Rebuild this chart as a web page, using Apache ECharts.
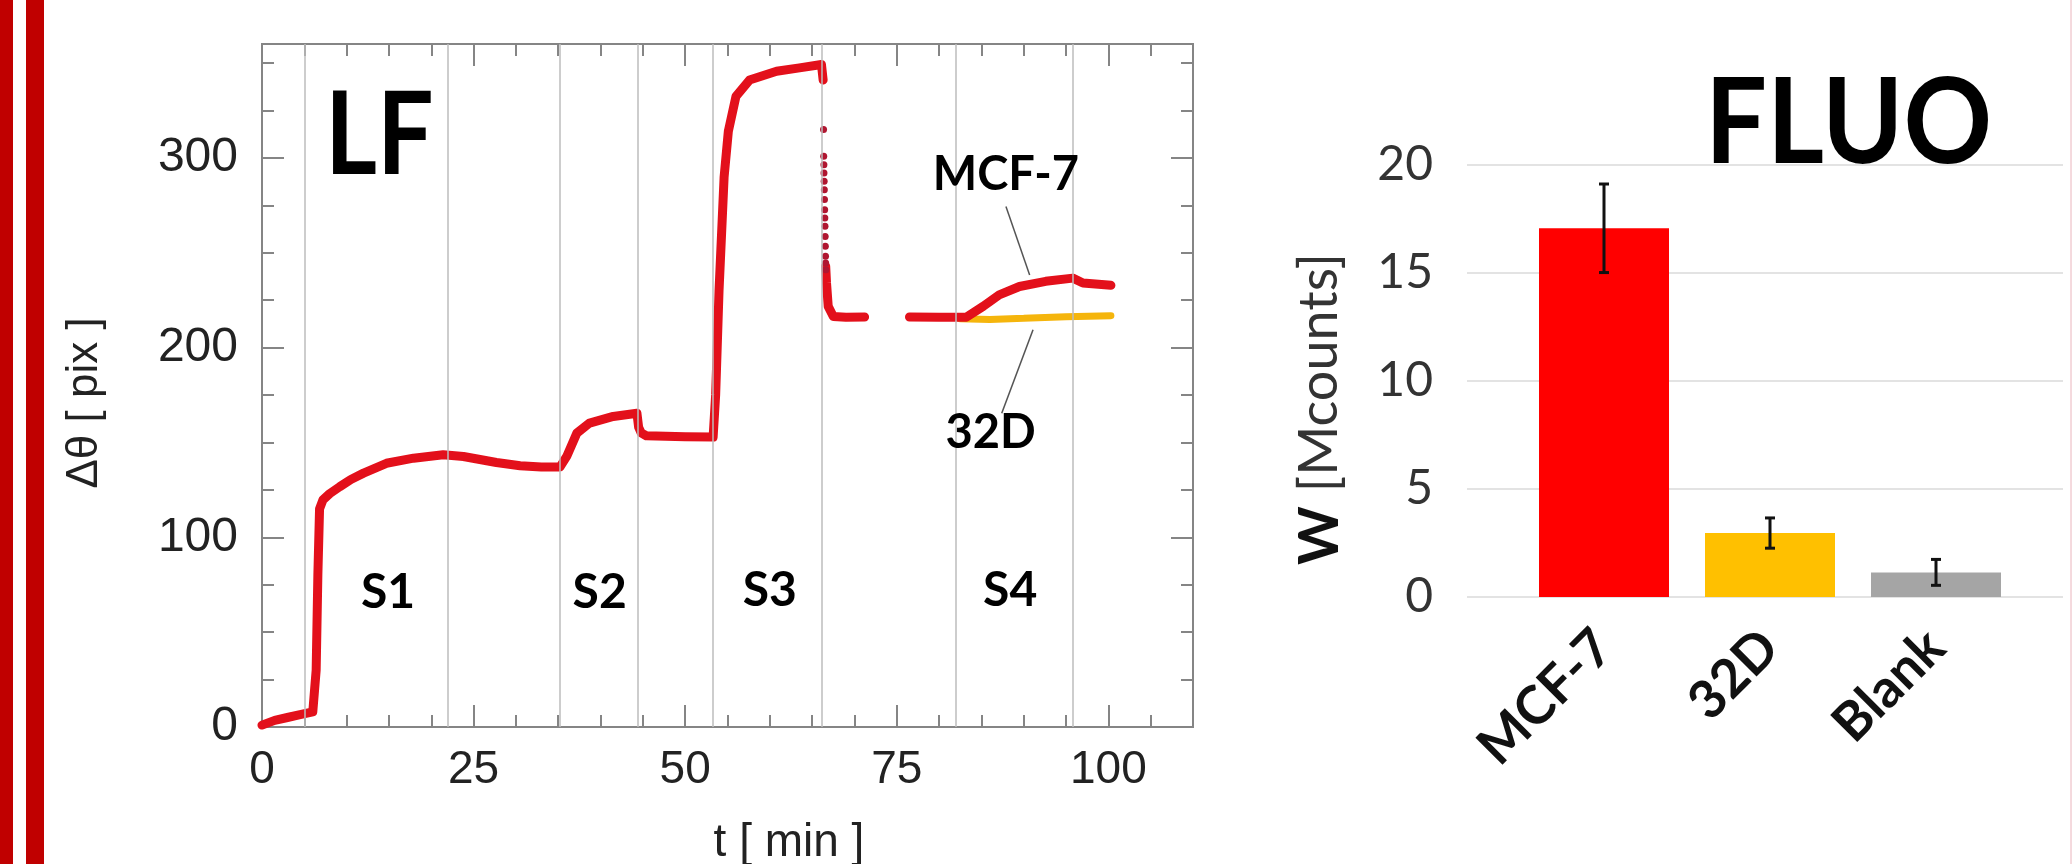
<!DOCTYPE html>
<html>
<head>
<meta charset="utf-8">
<script src="https://cdn.jsdelivr.net/npm/echarts@6/dist/echarts.min.js"></script>
<style>
    html, body { margin: 0; padding: 0; background: #fff; }
    #chart { width: 2072px; height: 864px; }
</style>
</head>
<body>
<div id="chart"></div>
<script>
    // LF trace, t [min] vs shift [pix]; null breaks the line
    var lfTime = [0, 1.5, 3, 4.5, 6.0, 6.4, 6.6, 6.8, 7.2, 8, 9.2, 10.5, 12, 14.7, 17.9,
        21.4, 23.8, 27.7, 30.5, 33, 35.2, 36.0, 37.2, 38.7, 41.5, 44.3, 44.5, 44.8, 45.4, 50,
        53.3, 53.6, 54.0, 54.6, 55.1, 56.0, 57.6, 60.8, 63.5, 66.1, 66.3, 66.45, 66.6, 66.7, 66.9,
        67.5, 69, 71.2, 73, 76.5, 80, 83.2, 85.2, 87.1, 89.5, 92.6, 95.8, 97.0, 100.3];
    var lfShift = [1, 3.5, 5, 6.5, 8, 30, 80, 115, 119.7, 123, 126.7, 130.5, 133.8, 139, 141.7,
        143.5, 142.6, 139.4, 137.7, 137, 137, 142.6, 154.9, 160.2, 163.7, 165.4, 158, 155, 153.5, 153,
        152.8, 175, 230, 290, 314, 332.4, 341, 345.6, 347.4, 349.2, 341, null, 243, 234, 221.7,
        216.4, 216, 216.1, null, 216.1, 216, 216, 221.7, 227.8, 232.2, 234.9, 236.6, 234, 232.8];
    // sparse points of the fast drop after S3
    var dotTime = [66.35, 66.37, 66.39, 66.4, 66.42, 66.44, 66.46, 66.48, 66.5, 66.52, 66.54, 66.56, 66.58, 66.6, 66.62];
    var dotShift = [314.9, 300.8, 296.4, 292, 287.6, 283.2, 278, 272.7, 268.3, 263.9, 258.6, 253.4, 248.1, 244.6, 241];
    // 32D branch
    var d32Time = [82.5, 86, 90, 95, 100.3];
    var d32Shift = [215.2, 214.8, 215.4, 216.2, 216.8];

    var stepTimes = [5, 22, 35.2, 44.4, 53.2, 66.1, 82, 95.8];
    var stepNames = ['S1', 'S2', 'S3', 'S4'];
    var stepNameT = [14.9, 39.9, 60.0, 88.4];
    var stepNameY = [71, 71, 72, 72];
    var curveNames = ['MCF-7', '32D'];
    var curveNameT = [87.9, 86.1];
    var curveNameY = [291, 155];
    var leaderFrom = [[87.9, 274.4], [91.1, 209.4]];
    var leaderTo = [[90.7, 238.2], [87.4, 165.4]];

    // FLUO bars
    var cellLines = ['MCF-7', '32D', 'Blank'];
    var fluoMean = [17.07, 2.96, 1.14];
    var fluoErr = [2.05, 0.7, 0.6];
    var fluoColors = ['#ff0000', '#ffc000', '#a5a5a5'];

    var axisGrey = '#858585';
    var lfFont = '"Liberation Sans", Arial, sans-serif';
    var xlFont = 'Lato, "Noto Sans", sans-serif';

    function frameAxis(kind, pos, interval, max, tickLen, withLabel) {
        var a = {
            type: 'value', gridIndex: 0, position: pos, min: 0, max: max, interval: interval,
            axisLine: { show: true, onZero: false, lineStyle: { color: axisGrey, width: 2 } },
            axisTick: { show: true, inside: true, length: tickLen, lineStyle: { color: axisGrey, width: 2 } },
            splitLine: { show: false },
            axisLabel: { show: false }
        };
        if (withLabel) {
            a.axisLabel = {
                show: true, showMaxLabel: false, fontSize: kind === 'x' ? 46 : 48,
                color: '#222', fontFamily: lfFont, margin: kind === 'x' ? 20 : 24
            };
        }
        return a;
    }

    var textLabel = function (size) {
        return {
            show: true, position: 'inside', formatter: '{b}', fontSize: size,
            fontWeight: 'bold', color: '#000', fontFamily: xlFont
        };
    };

    var option = {
        backgroundColor: '#fff',
        animation: false,
        grid: [
            { left: 262, top: 44, width: 931, height: 683 },
            { left: 1467, top: 165, width: 596, height: 432 },
            { left: 1521, top: 165, width: 498, height: 432 }
        ],
        xAxis: [
            frameAxis('x', 'bottom', 25, 110, 22, true),
            frameAxis('x', 'bottom', 5, 110, 12, false),
            frameAxis('x', 'top', 25, 110, 22, false),
            frameAxis('x', 'top', 5, 110, 12, false),
            { type: 'value', gridIndex: 1, show: false, min: 0, max: 1 },
            {
                type: 'category', gridIndex: 2, data: cellLines,
                axisLine: { show: false }, axisTick: { show: false },
                axisLabel: {
                    rotate: 45, fontSize: 53, fontWeight: 'bold', color: '#111',
                    fontFamily: xlFont, margin: 42, interval: 0
                }
            }
        ],
        yAxis: [
            frameAxis('y', 'left', 100, 360, 22, true),
            frameAxis('y', 'left', 25, 360, 12, false),
            frameAxis('y', 'right', 100, 360, 22, false),
            frameAxis('y', 'right', 25, 360, 12, false),
            {
                type: 'value', gridIndex: 1, min: 0, max: 20, interval: 5,
                axisLine: { show: false }, axisTick: { show: false },
                splitLine: { lineStyle: { color: '#e3e3e3', width: 2 } },
                axisLabel: { fontSize: 48, color: '#333', fontFamily: xlFont, margin: 34 }
            },
            { type: 'value', gridIndex: 2, min: 0, max: 20, show: false }
        ],
        series: [
            {
                name: 'steps', type: 'line', xAxisIndex: 0, yAxisIndex: 0, data: [], z: 1, silent: true,
                markLine: {
                    symbol: 'none', silent: true, label: { show: false },
                    lineStyle: { color: '#bdbdbd', width: 1.5, type: 'solid' },
                    data: stepTimes.map(function (t) { return { xAxis: t }; })
                }
            },
            {
                name: '32D', type: 'line', xAxisIndex: 0, yAxisIndex: 0, z: 3,
                data: d32Time.map(function (t, i) { return [t, d32Shift[i]]; }),
                showSymbol: false, lineStyle: { color: '#f5b50c', width: 7, cap: 'round' }
            },
            {
                name: 'MCF-7', type: 'line', xAxisIndex: 0, yAxisIndex: 0, z: 4,
                data: lfTime.map(function (t, i) { return [t, lfShift[i]]; }),
                showSymbol: false, connectNulls: false,
                lineStyle: { color: '#e3101b', width: 9, cap: 'round', join: 'round' }
            },
            {
                name: 'drop', type: 'scatter', xAxisIndex: 0, yAxisIndex: 0, z: 4,
                data: dotTime.map(function (t, i) { return [t, dotShift[i]]; }),
                symbolSize: 7, itemStyle: { color: '#b01630', opacity: 1 }
            },
            {
                name: 'leaders', type: 'line', xAxisIndex: 0, yAxisIndex: 0, data: [], z: 5, silent: true,
                markLine: {
                    symbol: 'none', silent: true, label: { show: false },
                    lineStyle: { color: '#555', width: 1.5, type: 'solid' },
                    data: leaderFrom.map(function (p, i) {
                        return [{ coord: p }, { coord: leaderTo[i] }];
                    })
                }
            },
            {
                name: 'stepNames', type: 'scatter', xAxisIndex: 0, yAxisIndex: 0, z: 6, silent: true,
                symbolSize: 1, itemStyle: { color: 'rgba(0,0,0,0)', opacity: 1 },
                data: stepNames.map(function (n, i) { return { name: n, value: [stepNameT[i], stepNameY[i]] }; }),
                label: textLabel(48)
            },
            {
                name: 'curveNames', type: 'scatter', xAxisIndex: 0, yAxisIndex: 0, z: 6, silent: true,
                symbolSize: 1, itemStyle: { color: 'rgba(0,0,0,0)', opacity: 1 },
                data: curveNames.map(function (n, i) { return { name: n, value: [curveNameT[i], curveNameY[i]] }; }),
                label: textLabel(47)
            },
            {
                name: 'W', type: 'bar', xAxisIndex: 5, yAxisIndex: 5, barWidth: 130,
                data: fluoMean.map(function (v, i) { return { value: v, itemStyle: { color: fluoColors[i] } }; })
            },
            {
                name: 'err', type: 'custom', xAxisIndex: 5, yAxisIndex: 5, z: 5,
                data: fluoMean.map(function (v, i) { return [i, v, fluoErr[i]]; }),
                renderItem: function (params, api) {
                    var hi = api.coord([api.value(0), api.value(1) + api.value(2)]);
                    var lo = api.coord([api.value(0), api.value(1) - api.value(2)]);
                    var st = { stroke: '#111', lineWidth: 3 };
                    return {
                        type: 'group', children: [
                            { type: 'line', shape: { x1: hi[0], y1: hi[1], x2: lo[0], y2: lo[1] }, style: st },
                            { type: 'line', shape: { x1: hi[0] - 5, y1: hi[1], x2: hi[0] + 5, y2: hi[1] }, style: st },
                            { type: 'line', shape: { x1: lo[0] - 5, y1: lo[1], x2: lo[0] + 5, y2: lo[1] }, style: st }
                        ]
                    };
                }
            }
        ],
        graphic: [
            { type: 'rect', shape: { x: 0, y: 0, width: 13, height: 864 }, style: { fill: '#c00000' } },
            { type: 'rect', shape: { x: 26, y: 0, width: 18, height: 864 }, style: { fill: '#c00000' } },
            { type: 'line', shape: { x1: 2071, y1: 0, x2: 2071, y2: 864 }, style: { stroke: '#eab4bc', lineWidth: 1 } },
            {
                type: 'text', x: 325, y: 137, scaleX: 0.87,
                style: { text: 'LF', font: 'bold 115px ' + xlFont, fill: '#000',
                    textAlign: 'left', textVerticalAlign: 'middle', align: 'left', verticalAlign: 'middle' }
            },
            {
                type: 'text', x: 1705, y: 125, scaleX: 0.93,
                style: { text: 'FLUO', font: 'bold 118px ' + xlFont, fill: '#000',
                    textAlign: 'left', textVerticalAlign: 'middle', align: 'left', verticalAlign: 'middle' }
            },
            {
                type: 'text', x: 85, y: 403, rotation: Math.PI / 2,
                style: { text: 'Δθ [ pix ]', font: '44px ' + lfFont, fill: '#222',
                    textAlign: 'center', textVerticalAlign: 'middle', align: 'center', verticalAlign: 'middle' }
            },
            {
                type: 'text', x: 789, y: 843,
                style: { text: 't [ min ]', font: '46px ' + lfFont, fill: '#222',
                    textAlign: 'center', textVerticalAlign: 'middle', align: 'center', verticalAlign: 'middle' }
            },
            {
                type: 'text', x: 1320, y: 409, rotation: Math.PI / 2,
                style: {
                    text: '{b|W}{r| [Mcounts]}', fill: '#222',
                    textAlign: 'center', textVerticalAlign: 'middle', align: 'center', verticalAlign: 'middle',
                    rich: {
                        b: { fontFamily: xlFont, fontSize: 56, fontWeight: 'bold', fill: '#111', color: '#111' },
                        r: { fontFamily: xlFont, fontSize: 54, fill: '#333', color: '#333' }
                    }
                }
            }
        ]
    };

    var myChart = echarts.init(document.getElementById('chart'));
    myChart.setOption(option);
</script>
</body>
</html>
